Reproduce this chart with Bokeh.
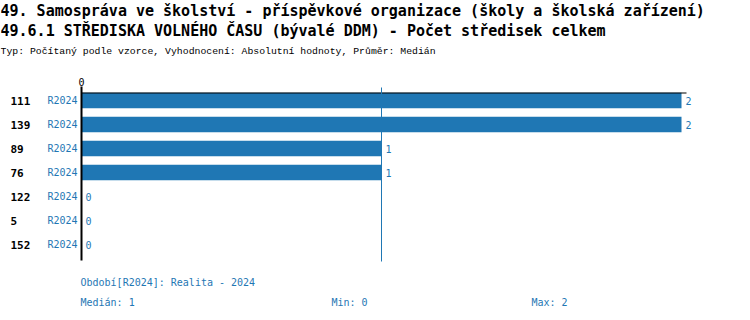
from bokeh.plotting import figure
from bokeh.models import Range1d, Label, ColumnDataSource
from bokeh.core.properties import value as V
from bokeh.embed import file_html
from bokeh.resources import INLINE

# ---- data ----
row_labels = ["111", "139", "89", "76", "122", "5", "152"]
period_labels = ["R2024"] * 7
values = [2, 2, 1, 1, 0, 0, 0]
median_value = 1
min_value = 0
max_value = 2
title1 = "49. Samospráva ve školství - příspěvkové organizace (školy a školská zařízení)"
title2 = "49.6.1 STŘEDISKA VOLNÉHO ČASU (bývalé DDM) - Počet středisek celkem"
subtitle = "Typ: Počítaný podle vzorce, Vyhodnocení: Absolutní hodnoty, Průměr: Medián"
period_note = "Období[R2024]: Realita - 2024"

W, H = 750, 320
X0_PX, PX_PER_UNIT = 81.0, 300.0      # value 0 at x=81 px, 300 px per unit
Y0_PX, PX_PER_ROW = 100.0, 24.0       # row 0 centred at y=100 px


def px2x(px):
    return (px - X0_PX) / PX_PER_UNIT


def px2y(py):
    return (py - Y0_PX) / PX_PER_ROW


BLUE = "#1f77b4"
MONO = "DejaVu Sans Mono"
MONO2 = "Liberation Mono"

p = figure(width=W, height=H, output_backend="svg", toolbar_location=None,
           x_range=Range1d(px2x(0), px2x(W)), y_range=Range1d(px2y(H), px2y(0)),
           min_border=0, min_border_left=0, min_border_right=0,
           min_border_top=0, min_border_bottom=0)
p.axis.visible = False
p.grid.visible = False
p.outline_line_color = None
p.background_fill_color = "white"
p.border_fill_color = "white"

rows = list(range(len(values)))
src = ColumnDataSource(dict(y=rows, right=values, row=row_labels, per=period_labels))

p.hbar(y="y", left=0, right="right", height=15.5 / PX_PER_ROW, source=src,
       fill_color=BLUE, line_color=None)

# top axis line
p.segment(x0=[0], y0=[px2y(92.5)], x1=[px2x(686)], y1=[px2y(92.5)], line_color="black", line_width=1)
# zero line
p.segment(x0=[0], y0=[px2y(86)], x1=[0], y1=[px2y(260)], line_color="black", line_width=2)
# median line
p.segment(x0=[median_value], y0=[px2y(87)], x1=[median_value], y1=[px2y(261)],
          line_color=BLUE, line_width=1)

# tick label 0
p.add_layout(Label(x=0, y=px2y(81.5), text="0", text_font=MONO, text_font_size="10px",
                   text_color="black", text_align="center", text_baseline="middle"))

# row labels
p.text(x=px2x(10), y="y", text="row", source=src, text_font=V(MONO), text_font_style="bold",
       text_font_size="11px", text_color="black", text_baseline="middle", text_align="left")
p.text(x=px2x(47), y="y", text="per", source=src, text_font=V(MONO),
       text_font_size="10px", text_color=BLUE, text_baseline="middle", text_align="left")
# value labels
src2 = ColumnDataSource(dict(y=rows, x=[v + 4.0 / PX_PER_UNIT for v in values],
                             t=[str(v) for v in values]))
p.text(x="x", y="y", text="t", source=src2, text_font=V(MONO),
       text_font_size="10px", text_color=BLUE, text_baseline="middle", text_align="left")


def lab(txt, xpx, ypx, size, color="black", bold=False, font=MONO):
    p.add_layout(Label(x=px2x(xpx), y=px2y(ypx), text=txt, text_font=font,
                       text_font_size=size, text_color=color,
                       text_font_style="bold" if bold else "normal",
                       text_align="left", text_baseline="middle"))


lab(title1, 0, 10, "15px", bold=True)
lab(title2, 0, 30, "15px", bold=True)
lab(subtitle, 0, 50.5, "9.8px", font=MONO2)
lab(period_note, 80, 282, "10px", BLUE)
lab("Medián: %g" % median_value, 80, 302, "10px", BLUE)
lab("Min: %g" % min_value, 331, 302, "10px", BLUE)
lab("Max: %g" % max_value, 531, 302, "10px", BLUE)

open("out.html", "w").write(file_html(p, INLINE))
